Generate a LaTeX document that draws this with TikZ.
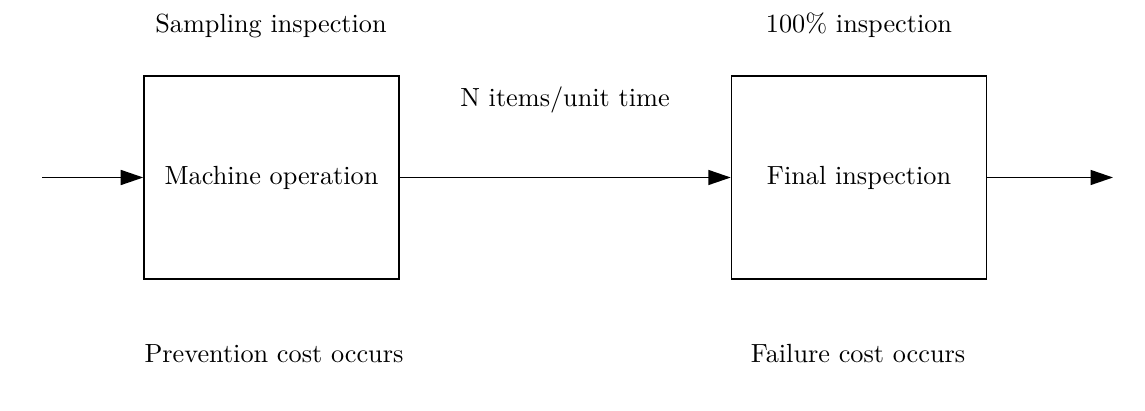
\documentclass[tikz,border=0pt]{standalone}
\usetikzlibrary{arrows.meta,positioning}
\tikzset
{
    % Style for the process blocks
    block/.style=
    {
        draw,
        line width=0.6pt,
        minimum width=102pt,
        minimum height=81.2pt,
        inner sep=0pt,
        font=\fontsize{10.5}{12}\selectfont
    },
    % Style for the flow of items
    flow/.style=
    {
        line width=0.6pt,
        -{Triangle[length=9pt,width=6pt]}
    },
    % Style for the texts around the blocks
    note/.style=
    {
        inner sep=0pt,
        anchor=base,
        font=\fontsize{10.5}{12}\selectfont
    }
}

\begin{document}
\begin{tikzpicture}[x=0.4pt,y=-0.4pt]
    % Fix the size of the picture
    \path [use as bounding box] (0,0) rectangle (1145,411);

    % Blocks
    \node (M) [block] at (271.5,177.5) {Machine operation};
    \node (F) [block] at (859,177.5) {Final inspection};

    % Free ends of the flow
    \coordinate (in) at (42,177.5);
    \coordinate (out) at (1113,177.5);

    % Flow
    \draw[flow] (in) -- (M.west);
    \draw[flow] (M.east) -- (F.west);
    \draw[flow] (F.east) -- (out);

    % Texts
    \node (sampling) [note] at (271,33) {Sampling inspection};
    \node (full) [note] at (859,33) {100\% inspection};
    \node (rate) [note] at (565,107) {N items/unit time};
    \node (prevention) [note] at (274,363) {Prevention cost occurs};
    \node (failure) [note] at (858,363) {Failure cost occurs};
\end{tikzpicture}
\end{document}
